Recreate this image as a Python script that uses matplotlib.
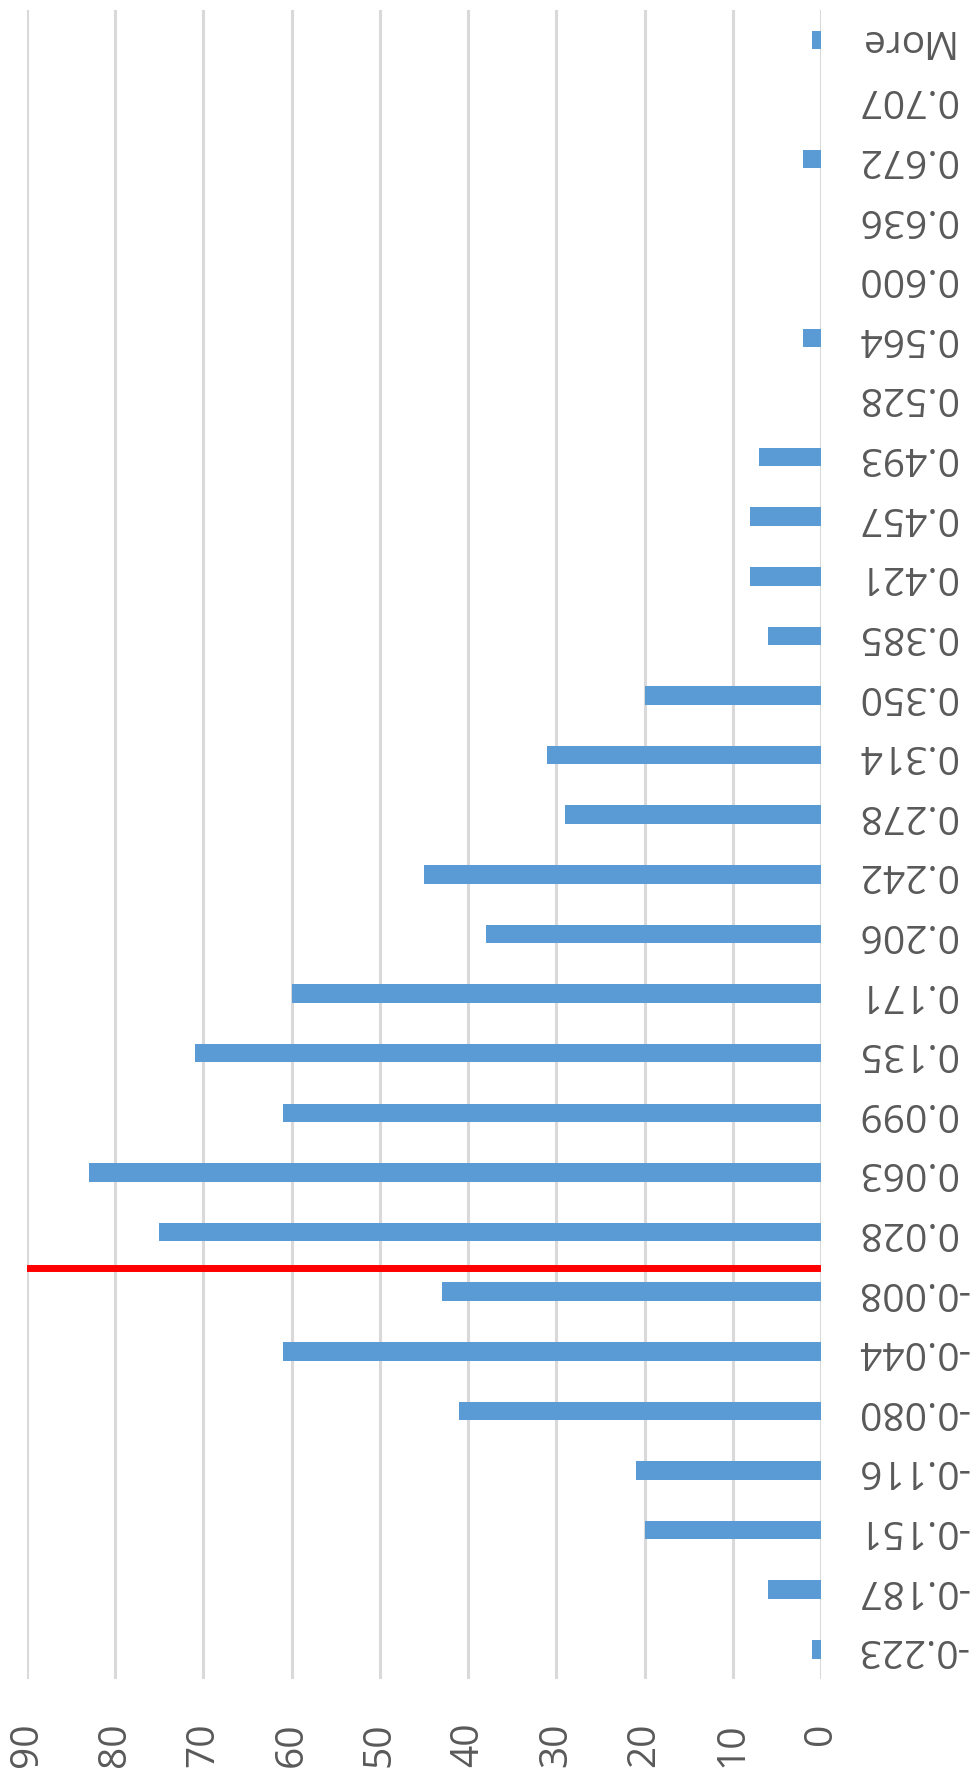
import matplotlib.pyplot as plt
import numpy as np

# histogram bins (bottom to top) and counts
bins = ["-0.223", "-0.187", "-0.151", "-0.116", "-0.080", "-0.044", "-0.008",
        "0.028", "0.063", "0.099", "0.135", "0.171", "0.206", "0.242",
        "0.278", "0.314", "0.350", "0.385", "0.421", "0.457", "0.493",
        "0.528", "0.564", "0.600", "0.636", "0.672", "0.707", "More"]
counts = [1, 6, 20, 21, 41, 61, 43,
          75, 83, 61, 71, 60, 38, 45,
          29, 31, 20, 6, 8, 8, 7,
          0, 2, 0, 0, 2, 0, 1]
value_ticks = [0, 10, 20, 30, 40, 50, 60, 70, 80, 90]
marker_pos = 6.4  # red reference line, between -0.008 and 0.028

plt.rcParams['font.family'] = ['Open Sans', 'DejaVu Sans']

fig = plt.figure(figsize=(9.71, 17.75), dpi=100)
ax = fig.add_axes([0.0278, 0.054, 0.8177, 0.9404])

y = np.arange(len(bins))
ax.barh(y, counts, height=0.31, color="#5B9BD5", zorder=3)
ax.axhline(marker_pos, color="#FF0000", linewidth=5, zorder=4,
           solid_capstyle="projecting")

ax.set_xlim(90, 0)
ax.set_ylim(-0.5, len(bins) - 0.5)
ax.set_xticks(value_ticks)
ax.set_xticklabels([str(v) for v in value_ticks], rotation=90)
ax.set_yticks(y)
ax.set_yticklabels(bins, rotation=180, va="center")

ax.grid(axis="x", color="#D9D9D9", linewidth=2.2, zorder=0)
for s in ax.spines.values():
    s.set_visible(False)

ax.tick_params(axis="y", left=False, right=False, labelleft=False,
               labelright=True, pad=22, labelsize=28, labelcolor="#595959")
ax.tick_params(axis="x", bottom=False, length=0, pad=31, labelsize=28,
               labelcolor="#595959")

fig.savefig("out.png", dpi=100)
plt.close(fig)
